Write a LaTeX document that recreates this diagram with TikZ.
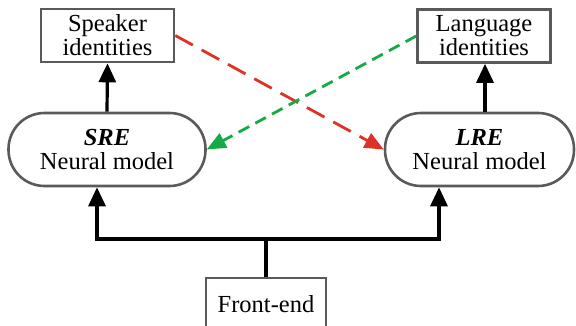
\documentclass[tikz,border=0pt]{standalone}
\usepackage{fontspec}
\setmainfont{Liberation Serif}
\usetikzlibrary{arrows.meta}
\definecolor{boxgray}{RGB}{90,90,90}
\definecolor{dred}{RGB}{222,50,38}
\definecolor{dgreen}{RGB}{20,170,70}
\begin{document}
\begin{tikzpicture}[x=1pt,y=-1pt,
  font=\fontsize{24.5}{25}\selectfont,
  idbox/.style={draw=boxgray,line width=2.6pt,fill=white,inner sep=0pt,align=center},
  pill/.style={draw=boxgray,line width=2.6pt,fill=white,inner sep=0pt,align=center,
    minimum width=197pt,minimum height=73pt,rounded corners=36pt},
  arr/.style={line width=3.2pt,-{Triangle[length=19pt,width=17pt]}},
  plain/.style={line width=3.2pt},
  redarr/.style={dred,line width=2.8pt,dash pattern=on 20pt off 10pt,-{Triangle[length=19pt,width=16pt]}},
  greenarr/.style={dgreen,line width=2.8pt,dash pattern=on 12pt off 7pt,-{Triangle[length=19pt,width=16pt]}}]
\useasboundingbox (0,0) rectangle (576,325);
\clip (0,0) rectangle (576,325);
\node[idbox,minimum width=133pt,minimum height=53pt] (spk) at (107.5,35.5) {Speaker\\[-1pt]identities};
\node[idbox,minimum width=133pt,minimum height=53pt] (lang) at (484,36) {Language\\[-1pt]identities};
\node[pill] (sre) at (107,149.5) {\textbf{\textit{SRE}}\\[-1pt]Neural model};
\node[pill,minimum width=189pt] (lre) at (479.5,149.5) {\textbf{\textit{LRE}}\\[-1pt]Neural model};
\node[idbox,minimum width=120pt,minimum height=52pt] (fe) at (266,304) {Front-end};
\coordinate (j) at (266,239);
\draw[arr] (sre.north) -- (spk.south);
\draw[arr] ([xshift=5.5pt]lre.north) -- ([xshift=1pt]lang.south);
\draw[plain] (fe.north) -- (j);
\draw[arr] ([xshift=1.6pt]j) -| ([xshift=-10pt]sre.south);
\draw[arr] ([xshift=-1.6pt]j) -| ([xshift=-40.5pt]lre.south);
\draw[redarr] (spk.east) -- (lre.west);
\draw[greenarr] (lang.west) -- (sre.east);
\end{tikzpicture}
\end{document}
